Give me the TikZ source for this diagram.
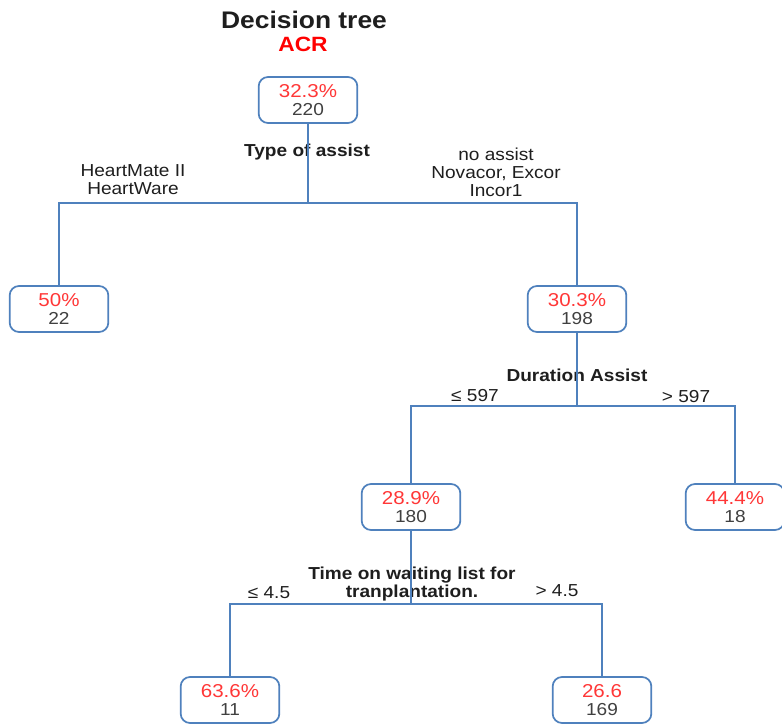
\documentclass[tikz,border=0pt]{standalone}
\usepackage{fontspec}
\setmainfont{Liberation Sans}[FakeStretch=1.1]
\definecolor{treeblue}{RGB}{79,129,189}
\definecolor{pctred}{RGB}{255,55,55}
\definecolor{cntgray}{RGB}{64,64,64}
\definecolor{labelgray}{RGB}{30,30,30}
\newcommand{\leafval}[2]{{\fontsize{14}{14}\selectfont\textcolor{pctred}{#1}}\\\textcolor{cntgray}{#2}}

\begin{document}
\begin{tikzpicture}[x=0.75pt, y=-0.75pt,
	treenode/.style={draw=treeblue, line width=1.3pt, rounded corners=7pt, fill=white,
		minimum width=74pt, minimum height=34.5pt, inner sep=0pt, align=center,
		font=\fontsize{13}{13.5}\selectfont},
	edge/.style={draw=treeblue, line width=1.7pt},
	splitlabel/.style={font=\bfseries\fontsize{13}{13.5}\selectfont, text=labelgray, align=center},
	branchlabel/.style={font=\fontsize{13}{13.5}\selectfont, text=labelgray, align=center}]
			\useasboundingbox (0, 0) rectangle (782, 724);
			
			% title
			\node[font=\bfseries\fontsize{18}{18}\selectfont, text=labelgray] (title) at (304, 20) {Decision tree};
			\node[font=\bfseries\fontsize{15.5}{16}\selectfont, text=red] (acr) at (303, 44) {ACR};
			
			% labels of the splits
			\node[splitlabel] (typeassist) at (307, 152) {Type of assist};
			\node[branchlabel] (heartmate) at (133, 180) {HeartMate II\\HeartWare};
			\node[branchlabel] (noassist) at (496, 172) {no assist\\Novacor, Excor\\Incor1};
			\node[splitlabel] (duration) at (577, 375) {Duration Assist};
			\node[branchlabel] (durlow) at (475, 396) {≤ 597};
			\node[branchlabel] (durhigh) at (686, 397) {> 597};
			\node[splitlabel] (waiting) at (412, 584) {Time on waiting list for\\tranplantation.};
			\node[branchlabel] (waitlow) at (269, 593) {≤ 4.5};
			\node[branchlabel] (waithigh) at (557, 591) {> 4.5};
			
			% nodes
			\node[treenode] (root) at (308, 100) {\leafval{32.3\%}{220}};
			\node[treenode] (heart) at (59, 309) {\leafval{50\%}{22}};
			\node[treenode] (other) at (577, 309) {\leafval{30.3\%}{198}};
			\node[treenode] (short) at (411, 507) {\leafval{28.9\%}{180}};
			\node[treenode] (long) at (735, 507) {\leafval{44.4\%}{18}};
			\node[treenode] (quick) at (230, 700) {\leafval{63.6\%}{11}};
			\node[treenode] (slow) at (602, 700) {\leafval{26.6}{169}};
			
			% connectors
			\coordinate (split1) at (308, 203);
			\coordinate (split2) at (577, 406);
			\coordinate (split3) at (411, 604);
			\draw[edge] (root.south) -- (split1);
			\draw[edge] (split1) -| (heart.north);
			\draw[edge] (split1) -| (other.north);
			\draw[edge] (other.south) -- (split2);
			\draw[edge] (split2) -| (short.north);
			\draw[edge] (split2) -| (long.north);
			\draw[edge] (short.south) -- (split3);
			\draw[edge] (split3) -| (quick.north);
			\draw[edge] (split3) -| (slow.north);
\end{tikzpicture}
\end{document}
